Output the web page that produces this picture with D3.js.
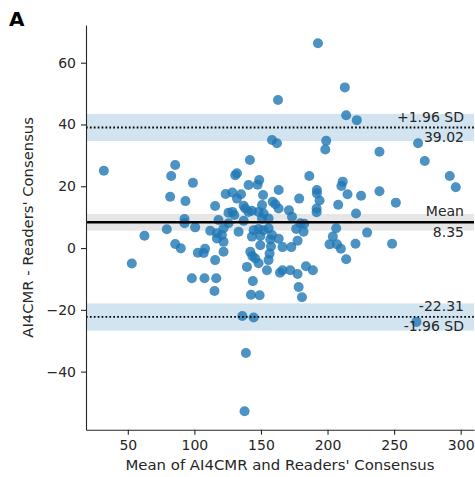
<!DOCTYPE html>
<html>
<head>
<meta charset="utf-8">
<script src="https://cdn.jsdelivr.net/npm/d3@7"></script>
<style>
  html, body { margin: 0; padding: 0; background: #fff; }
  svg { display: block; font-family: "DejaVu Sans", sans-serif; }
</style>
</head>
<body>
<div id="chart"></div>
<script>
// Bland-Altman data: mean of the two methods, and their difference
const meanVals = [32, 53, 62.5, 85.6, 82.6, 98.9, 81.8, 93.3, 92.6, 92.6, 79.3, 85.6, 89.8, 100.6, 98.1, 107.6, 116.4, 115.1, 102.6, 107, 108, 115.6, 121.9, 116.9, 121.9, 111.9, 116.9, 120.7, 118.1, 125.6, 125.6, 115.6, 123.5, 128.5, 132, 130.7, 135, 132, 137, 128.5, 130, 138.2, 140.7, 143.2, 148.2, 152, 150.8, 137, 133.2, 144.5, 152, 143.2, 157, 155.7, 158.3, 149.5, 121.9, 148.2, 142, 143.5, 145.7, 148.2, 149.5, 157.5, 156.5, 155.7, 139.5, 143.9, 142.5, 149, 154.5, 164.3, 166.2, 172, 177.5, 183.8, 189, 178.3, 180.8, 166.2, 172.8, 177.5, 163.3, 201.5, 207.1, 210, 214, 221, 248.5, 204, 206.5, 229.7, 182.5, 179.6, 176.5, 182, 171, 173.3, 178.7, 163.3, 160.8, 158.8, 151.6, 148.7, 147.5, 140.7, 141.7, 150.8, 155.7, 163.3, 186.3, 192, 192, 194, 191.8, 191.8, 208, 211.4, 210.4, 215, 225.2, 239, 251.3, 221.4, 239, 268, 273, 291.8, 296.3, 198.3, 199, 158.3, 162, 162.8, 192.8, 213, 214, 222, 136, 144.5, 138.7, 137.7, 266.8];
const diffVals = [25, -5, 4, 26.9, 23.3, 21.1, 16.6, 15.2, 9.4, 8, 6.1, 1.3, -0.1, 6.7, -9.8, -9.8, -9.8, -13.9, -1.5, -1.6, -0.2, -3.9, -1.2, 3.1, 2, 5.6, 4.8, 4.2, 9.1, 8, 11.4, 13.6, 17.5, 18, 24.2, 23.6, 17.4, 16, 13.7, 11.7, 10.7, 12.8, 11.7, 12.1, 11.7, 11.2, 9.6, 8.8, 5.3, 5.8, 5.8, 3.7, 2.8, 6.4, 4.2, 3.9, 6.4, 6.2, -1.2, -2.6, -3.4, -4.9, 0.9, 0.5, -1.8, -3.9, -6.1, -10.7, -15.1, -15.3, -7.2, -8, -7.2, -7.2, -8.4, -5.9, -7.2, -12.6, -15.9, 0.3, 0.3, 2.4, 3, 1.2, 1.2, -0.2, -3.6, 1.4, 1.4, 3.7, 6.4, 5, 7.9, 8, 6.2, 5.3, 12.2, 10.1, 16, 12.8, 14.2, 15, 17.2, 22, 20.5, 20.4, 28.5, 13.9, 9.6, 18.8, 23.3, 18.8, 17.7, 15.4, 12.8, 11.6, 14, 21.5, 20.1, 17.4, 16.9, 18.4, 14.7, 11.2, 31.2, 33.9, 28.2, 23.3, 19.7, 31.9, 34.7, 35, 33.9, 47.9, 66.3, 52, 43, 41.4, -22, -22.5, -34, -52.8, -23.9];

// reference lines and their confidence bands
const meanDiff = 8.35;
const upperLoA = 39.02;
const lowerLoA = -22.31;
const meanCI = 2.7;
const loaCI = 4.4;

const xTicks = [50, 100, 150, 200, 250, 300];
const yTicks = [-40, -20, 0, 20, 40, 60];

const width = 475, height = 477;
const margin = { top: 25, right: 1, bottom: 47.3, left: 86 };
const ink = "#262626";

const svg = d3.select("#chart").append("svg")
  .attr("width", width)
  .attr("height", height);

const x = d3.scaleLinear().domain([18.6, 310]).range([margin.left, width - margin.right]);
const y = d3.scaleLinear().domain([-58.8, 72.2]).range([height - margin.bottom, margin.top]);

// bands
const bands = [
  { c: upperLoA, h: loaCI, fill: "#d2e4f0" },
  { c: lowerLoA, h: loaCI, fill: "#d2e4f0" },
  { c: meanDiff, h: meanCI, fill: "#e6e6e6" }
];
svg.append("g").selectAll("rect")
  .data(bands)
  .join("rect")
  .attr("x", x.range()[0])
  .attr("width", x.range()[1] - x.range()[0])
  .attr("y", d => y(d.c + d.h))
  .attr("height", d => y(d.c - d.h) - y(d.c + d.h))
  .attr("fill", d => d.fill);

// points
const pts = meanVals.map((m, i) => ({ m, d: diffVals[i] }));
svg.append("g").selectAll("circle")
  .data(pts)
  .join("circle")
  .attr("cx", d => x(d.m))
  .attr("cy", d => y(d.d))
  .attr("r", 5)
  .attr("fill", "#1f77b4")
  .attr("opacity", 0.8);

// mean + limits of agreement
svg.append("line")
  .attr("x1", x.range()[0]).attr("x2", x.range()[1])
  .attr("y1", y(meanDiff)).attr("y2", y(meanDiff))
  .attr("stroke", "#000").attr("stroke-width", 2.5);

[upperLoA, lowerLoA].forEach(v => {
  svg.append("line")
    .attr("x1", x.range()[0]).attr("x2", x.range()[1])
    .attr("y1", y(v)).attr("y2", y(v))
    .attr("stroke", "#000").attr("stroke-width", 1.8)
    .attr("stroke-dasharray", "1.7,2.2");
});

// axes
const xAxis = svg.append("g")
  .attr("transform", `translate(0,${height - margin.bottom})`)
  .call(d3.axisBottom(x).tickValues(xTicks).tickSize(5).tickPadding(5).tickSizeOuter(0));
const yAxis = svg.append("g")
  .attr("transform", `translate(${margin.left},0)`)
  .call(d3.axisLeft(y).tickValues(yTicks).tickSize(5).tickPadding(5).tickSizeOuter(0)
    .tickFormat(d => d < 0 ? "\u2212" + Math.abs(d) : d));

[xAxis, yAxis].forEach(g => {
  g.select(".domain").attr("stroke", ink).attr("stroke-width", 1.1);
  g.selectAll(".tick line").attr("stroke", ink).attr("stroke-width", 1.1);
  g.selectAll(".tick text").attr("fill", ink).attr("font-size", 14)
    .attr("font-family", "DejaVu Sans, sans-serif");
});

// axis titles
svg.append("text")
  .attr("x", (x.range()[0] + x.range()[1]) / 2)
  .attr("y", 470)
  .attr("text-anchor", "middle")
  .attr("fill", ink)
  .attr("font-size", 14.9)
  .text("Mean of AI4CMR and Readers' Consensus");

svg.append("text")
  .attr("transform", `translate(33,${(y.range()[0] + y.range()[1]) / 2}) rotate(-90)`)
  .attr("text-anchor", "middle")
  .attr("fill", ink)
  .attr("font-size", 14.8)
  .text("AI4CMR - Readers' Consensus");

// line annotations
const notes = [
  { v: upperLoA, above: "+1.96 SD", below: upperLoA.toFixed(2) },
  { v: meanDiff, above: "Mean", below: meanDiff.toFixed(2) },
  { v: lowerLoA, above: lowerLoA.toFixed(2), below: "-1.96 SD" }
];
notes.forEach(n => {
  svg.append("text")
    .attr("x", 464).attr("y", y(n.v) - 6)
    .attr("text-anchor", "end").attr("fill", ink).attr("font-size", 14)
    .text(n.above);
  svg.append("text")
    .attr("x", 464).attr("y", y(n.v) + 14.3)
    .attr("text-anchor", "end").attr("fill", ink).attr("font-size", 14)
    .text(n.below);
});

// panel letter
svg.append("text")
  .attr("x", 9).attr("y", 26)
  .attr("font-size", 20)
  .attr("font-weight", "bold")
  .attr("fill", "#000")
  .text("A");
</script>
</body>
</html>
